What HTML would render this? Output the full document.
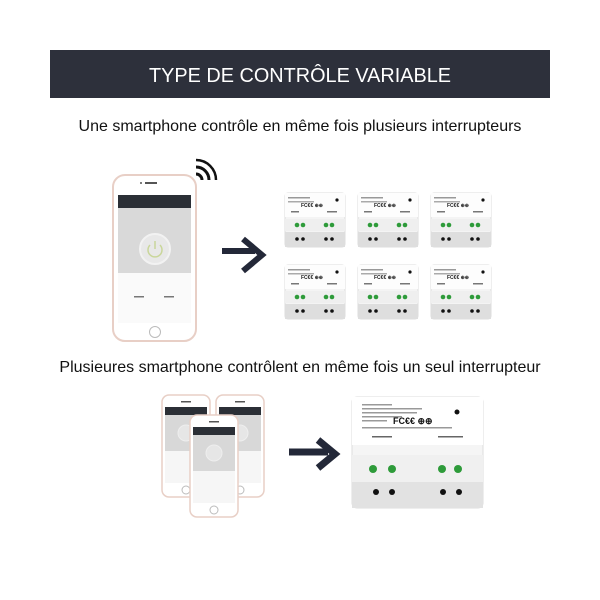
<!DOCTYPE html>
<html><head><meta charset="utf-8"><style>html,body{margin:0;padding:0;background:#fff}svg{display:block}</style></head>
<body>
<svg width="600" height="600" viewBox="0 0 600 600" xmlns="http://www.w3.org/2000/svg" font-family="Liberation Sans, sans-serif">
<defs>
<g id="mod">
  <rect x="0" y="0" width="60" height="54" rx="3" fill="#f4f4f4" stroke="#ddd"/>
  <rect x="0" y="0" width="60" height="24" fill="#fdfdfd"/>
  <rect x="3" y="4" width="22" height="1.5" fill="#999"/><rect x="3" y="8" width="26" height="1.5" fill="#aaa"/>
  <text x="16" y="14" font-size="5" font-weight="bold" fill="#222">FC€€ ⊕⊕</text>
  <circle cx="52" cy="7" r="1.6" fill="#111"/>
  <rect x="6" y="18" width="8" height="1.5" fill="#777"/><rect x="42" y="18" width="10" height="1.5" fill="#777"/>
  <rect x="0" y="26" width="60" height="12" fill="#efefef"/>
  <circle cx="12" cy="32" r="2.3" fill="#2e9b3a"/><circle cx="18" cy="32" r="2.3" fill="#2e9b3a"/>
  <circle cx="41" cy="32" r="2.3" fill="#2e9b3a"/><circle cx="47" cy="32" r="2.3" fill="#2e9b3a"/>
  <rect x="0" y="39" width="60" height="15" fill="#dedede"/>
  <circle cx="12" cy="46" r="1.8" fill="#111"/><circle cx="18" cy="46" r="1.8" fill="#111"/>
  <circle cx="41" cy="46" r="1.8" fill="#111"/><circle cx="47" cy="46" r="1.8" fill="#111"/>
</g>
<g id="ph">
  <rect x="0" y="0" width="48" height="102" rx="7" fill="#fff" stroke="#e8cfc6" stroke-width="1.5"/>
  <rect x="3" y="12" width="42" height="76" fill="#f6f6f6"/>
  <rect x="3" y="12" width="42" height="8" fill="#2b2f36"/>
  <rect x="3" y="20" width="42" height="36" fill="#d8d8d8"/>
  <circle cx="24" cy="38" r="8" fill="#e6e6e6" stroke="#eee"/>
  <rect x="19" y="6" width="10" height="1.5" fill="#555"/>
  <circle cx="24" cy="95" r="4" fill="none" stroke="#bbb"/>
</g>
</defs>
<rect x="50" y="50" width="500" height="48" fill="#2d303b"/>
<text x="300" y="82" font-size="20" fill="#fff" text-anchor="middle" textLength="302" lengthAdjust="spacingAndGlyphs">TYPE DE CONTRÔLE VARIABLE</text>
<text x="300" y="131" font-size="16" fill="#111" text-anchor="middle">Une smartphone contrôle en même fois plusieurs interrupteurs</text>
<text x="300" y="372" font-size="16" fill="#111" text-anchor="middle">Plusieures smartphone contrôlent en même fois un seul interrupteur</text>

<rect x="113" y="175" width="83" height="166" rx="12" fill="#fff" stroke="#e8cfc6" stroke-width="2"/>
<rect x="118" y="195" width="73" height="128" fill="#fafafa"/>
<rect x="118" y="195" width="73" height="13" fill="#2b2f36"/>
<rect x="118" y="208" width="73" height="65" fill="#d9d9d9"/>
<circle cx="155" cy="249" r="15" fill="#e8e8e8" stroke="#f2f2f2" stroke-width="2"/>
<path d="M150 245 a7 7 0 1 0 10 0" fill="none" stroke="#c9d69a" stroke-width="1.5"/>
<line x1="155" y1="241" x2="155" y2="249" stroke="#c9d69a" stroke-width="1.5"/>
<rect x="145" y="182" width="12" height="2" fill="#555"/><circle cx="141" cy="183" r="1" fill="#555"/>
<circle cx="155" cy="332" r="5.5" fill="none" stroke="#bbb"/>
<rect x="134" y="296" width="10" height="1.5" fill="#777"/><rect x="164" y="296" width="10" height="1.5" fill="#777"/>
<g fill="none" stroke="#111" stroke-width="3">
<path d="M196 174 a6 6 0 0 1 6 6"/><path d="M196 167 a13 13 0 0 1 13 13"/><path d="M196 160 a20 20 0 0 1 20 20" stroke-width="2.5"/>
</g>
<path d="M222 251 H255 M243 239 L262 255 L243 271" fill="none" stroke="#232838" stroke-width="6"/>
<use href="#mod" x="285" y="193"/><use href="#mod" x="358" y="193"/><use href="#mod" x="431" y="193"/>
<use href="#mod" x="285" y="265"/><use href="#mod" x="358" y="265"/><use href="#mod" x="431" y="265"/>

<use href="#ph" x="162" y="395"/><use href="#ph" x="216" y="395"/><use href="#ph" x="190" y="415"/>
<path d="M289 452 H328 M318 440 L335 454 L318 468" fill="none" stroke="#232838" stroke-width="7"/>
<rect x="352" y="397" width="131" height="111" rx="5" fill="#f5f5f5" stroke="#ddd"/>
<rect x="352" y="397" width="131" height="48" fill="#fff"/>
<g fill="#999"><rect x="362" y="404" width="30" height="1.5"/><rect x="362" y="408" width="60" height="1.5"/><rect x="362" y="412" width="55" height="1.5"/><rect x="362" y="416" width="40" height="1.5"/><rect x="362" y="420" width="25" height="1.5"/><rect x="362" y="427" width="90" height="1.5"/></g>
<circle cx="457" cy="412" r="2.5" fill="#111"/>
<text x="393" y="424" font-size="9" font-weight="bold" fill="#111">FC€€ ⊕⊕</text>
<rect x="372" y="436" width="20" height="1.5" fill="#666"/><rect x="438" y="436" width="25" height="1.5" fill="#666"/>
<rect x="352" y="455" width="131" height="30" fill="#f0f0f0"/>
<g fill="#2e9b3a"><circle cx="373" cy="469" r="4"/><circle cx="392" cy="469" r="4"/><circle cx="442" cy="469" r="4"/><circle cx="458" cy="469" r="4"/></g>
<rect x="352" y="482" width="131" height="26" fill="#e2e2e2"/>
<g fill="#111"><circle cx="376" cy="492" r="3"/><circle cx="392" cy="492" r="3"/><circle cx="443" cy="492" r="3"/><circle cx="459" cy="492" r="3"/></g>
</svg>
</body></html>
